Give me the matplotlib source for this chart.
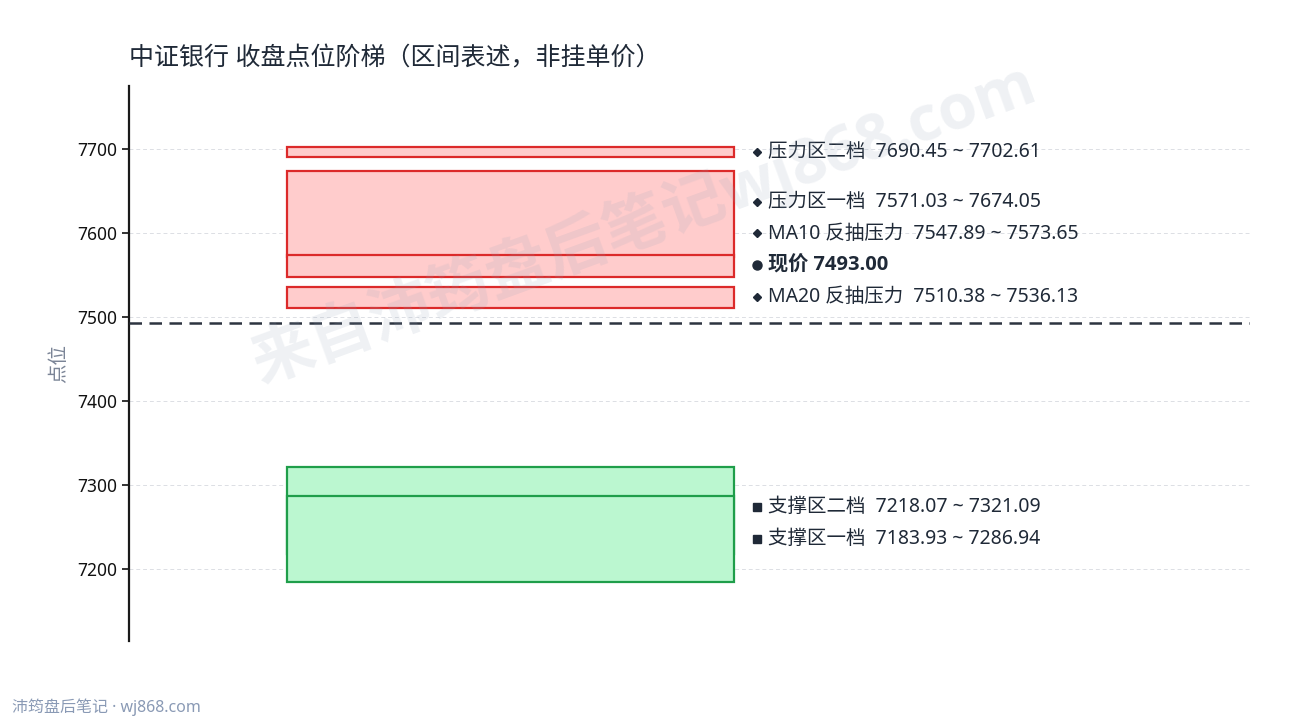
import matplotlib
matplotlib.use("Agg")
import matplotlib.pyplot as plt

plt.rcParams["font.family"] = ["Noto Sans", "Noto Sans CJK SC", "DejaVu Sans"]
bold_family = ["Open Sans", "Noto Sans CJK SC", "DejaVu Sans"]

# zone data (low, high), listed bottom-up in label order
zone_names = ["支撑区一档", "支撑区二档", "MA20 反抽压力", "MA10 反抽压力", "压力区一档", "压力区二档"]
zone_low = [7183.93, 7218.07, 7510.38, 7547.89, 7571.03, 7690.45]
zone_high = [7286.94, 7321.09, 7536.13, 7573.65, 7674.05, 7702.61]
zone_kind = ["support", "support", "resist", "resist", "resist", "resist"]
price_now = 7493.00

title = "中证银行 收盘点位阶梯（区间表述，非挂单价）"
y_ticks = [7200, 7300, 7400, 7500, 7600, 7700]

styles = {
    "support": dict(face="#bbf7d0", edge="#1f9e4a", marker="s"),
    "resist": dict(face="#ffcccc", edge="#dc2a2a", marker="D"),
}
text_color = "#1f2937"

fig = plt.figure(figsize=(12.9, 7.2), dpi=100)
ax = fig.add_axes([0.1, 0.1097, 0.869, 0.771])
ax.set_xlim(0, 1)
ax.set_ylim(7114, 7775)

# boxes, drawn top-down so lower zones sit on top
box_left, box_right = 0.141, 0.540
for lo, hi, kind in reversed(list(zip(zone_low, zone_high, zone_kind))):
    st = styles[kind]
    ax.bar((box_left + box_right) / 2, hi - lo, width=box_right - box_left, bottom=lo,
           color=st["face"], edgecolor=st["edge"], linewidth=1.6, zorder=3)

ax.axhline(price_now, color="#2d3440", linestyle=(0, (5, 3)), linewidth=1.8, zorder=4)

# labels, pushed apart bottom-up
items = []
for name, lo, hi, kind in zip(zone_names, zone_low, zone_high, zone_kind):
    items.append((f"{name}  {lo:.2f} ~ {hi:.2f}", (lo + hi) / 2, kind))
items.insert(3, (f"现价 {price_now:.2f}", price_now, "now"))

gap = 38.0
last = None
label_x = 0.570
for txt, y, kind in items:
    if last is not None and y < last + gap:
        y = last + gap
    last = y
    if kind == "now":
        ax.plot(0.5605, y, marker="o", color=text_color, markersize=6.5, clip_on=False, zorder=5)
        ax.text(label_x, y, txt, fontsize=14.5, fontweight="bold", family=bold_family,
                color=text_color, va="center", ha="left", zorder=5)
    else:
        ax.plot(0.5605, y, marker=styles[kind]["marker"], color=text_color,
                markersize=4.5 if kind == "resist" else 5.5, clip_on=False, zorder=5)
        ax.text(label_x, y, txt, fontsize=14, color=text_color,
                va="center", ha="left", zorder=5)

# axes styling
ax.set_yticks(y_ticks)
ax.tick_params(axis="y", labelsize=12.5, length=5, width=1.2, colors="#111111")
ax.set_xticks([])
for s in ["top", "right", "bottom"]:
    ax.spines[s].set_visible(False)
ax.spines["left"].set_linewidth(1.6)
ax.spines["left"].set_color("#1a1a1a")
ax.grid(axis="y", color="#dcdfe4", linestyle=(0, (4, 3)), linewidth=0.7, zorder=0)
ax.set_axisbelow(True)
ax.set_ylabel("点位", fontsize=14, color="#7a8496", labelpad=6)

fig.text(0.1, 0.918, title, fontsize=18, color=text_color, ha="left", va="center")
fig.text(0.009, 0.018, "沛筠盘后笔记 · wj868.com", fontsize=11.5, color="#8a9ab5",
         ha="left", va="center")

# watermark
fig.text(0.499, 0.69, "来自沛筠盘后笔记wj868.com", fontsize=45, fontweight="bold",
         family=bold_family, color="#94a3b8", alpha=0.15, rotation=20,
         ha="center", va="center", zorder=10)

fig.savefig("out.png", dpi=100)
